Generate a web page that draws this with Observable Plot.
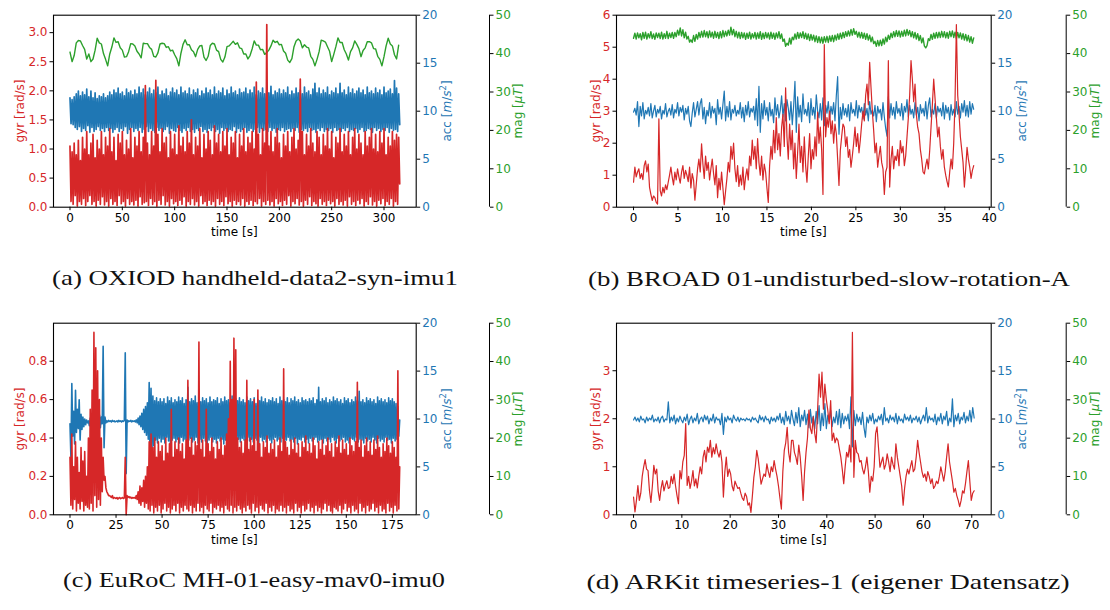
<!DOCTYPE html>
<html><head><meta charset="utf-8">
<script src="https://cdn.jsdelivr.net/npm/d3@7"></script>
<script src="https://cdn.jsdelivr.net/npm/@observablehq/plot@0.6"></script>
<style>
body{margin:0;background:#fff;}
#fig{position:relative;width:1110px;height:610px;overflow:hidden;background:#fff;font-family:"DejaVu Sans",sans-serif;}
.layer{position:absolute;width:555px;height:250px;}
.layer svg{overflow:visible;display:block;}
.lab{position:absolute;transform:translate(-50%,-50%);white-space:nowrap;font:12px "DejaVu Sans",sans-serif;line-height:14px;}
.rot{transform:translate(-50%,-50%) rotate(-90deg);}
.lab sup{font-size:8.5px;line-height:0;}
.cap{position:absolute;white-space:nowrap;font-family:"Liberation Serif",serif;font-size:22px;line-height:26px;color:#111;}
</style></head><body><div id="fig"></div>
<script>
// ---------- data ----------
// (a) OXIOD: time 0..315 s
const tEndA = 315, tEndMagA = 314;
const gyrA = [1.05,.1,.95,.05,1.1,.2,.9,.02,1.15,.1, .8,.05,1.2,.15,1.0,.03,1.3,.1,.9,.2, 1.1,.05,1.25,.1,.85,.02,1.15,.12,1.0,.05, 1.3,.18,.9,.04,1.2,.1,1.05,.02,1.35,.15, .95,.05,1.2,.1,.8,.03,1.25,.2,1.1,.06, 1.3,.1,.9,.02,1.15,.15,1.0,.05,1.35,.1, .85,.04,1.2,.12,1.05,.02,1.3,.18,.95,.05, 1.2,.08,2.09,.1,1.1,.03,.9,.15,1.3,.05, 1.05,.1,2.18,.02,1.25,.12,.95,.05,1.35,.2, 1.1,.04,1.2,.1,.85,.02,1.3,.15,1.0,.06, 1.25,.1,.9,.03,1.4,.12,1.05,.05,1.2,.18, .95,.02,1.3,.1,1.1,.05,1.5,.15,.9,.04, 1.2,.1,1.05,.02,1.35,.2,.85,.06,1.25,.1, 1.0,.03,1.3,.12,1.15,.05,.9,.1,1.4,.02, 1.1,.15,1.25,.05,.95,.1,1.3,.03,1.05,.18, 1.35,.06,.9,.1,1.2,.02,1.1,.12,1.3,.05, .85,.1,1.25,.04,1.05,.15,1.35,.02,.95,.1, 1.2,.05,1.1,.12,1.3,.03,1.0,.1,2.15,.06, 1.25,.15,.9,.02,1.35,.1,1.1,.05,3.14,.12, 1.05,.04,1.3,.1,.95,.02,1.2,.15,1.35,.06, 1.1,.1,.85,.03,1.25,.12,1.05,.05,1.3,.2, .95,.02,1.2,.1,1.35,.06,1.0,.15,1.15,.04, 2.2,.1,1.3,.02,.9,.12,1.25,.05,1.05,.18, 1.35,.03,1.1,.1,.95,.06,1.3,.02,1.2,.15, .9,.05,1.25,.1,1.05,.03,1.35,.12,1.0,.06, 1.3,.1,.85,.02,1.2,.15,1.1,.05,1.35,.1, .95,.04,1.25,.12,1.05,.02,1.3,.18,.9,.05, 1.2,.1,1.35,.03,1.0,.12,1.25,.06,1.1,.15, .9,.02,1.3,.1,1.05,.05,1.2,.18,1.35,.04, 1.0,.1,1.25,.02,.95,.12,1.3,.06,1.1,.15, 1.35,.03,.9,.1,1.2,.05,1.05,.15,1.3,.02, 1.15,.1,1.25,.05,1.2,.4];
const accA = [11.4,8.7,11.2,8.6,11.5,8.3,11.8,8.1,12.1,8.4, 11.6,7.9,12.0,8.2,11.7,8.0,12.3,8.5,11.5,7.8, 12.1,8.3,11.4,7.9,11.9,8.1,11.3,8.4,11.6,8.0, 11.5,8.2,11.8,7.9,11.4,8.3,11.6,8.0,12.0,8.2, 11.7,7.8,12.2,8.1,11.9,8.3,12.4,7.9,11.8,8.2, 12.0,8.0,11.6,8.4,12.3,7.7,11.9,8.1,12.1,8.3, 11.7,7.9,12.2,8.2,11.8,8.0,12.5,8.3,11.9,7.8, 12.3,8.1,11.7,8.4,12.0,7.9,12.4,8.2,11.8,8.0, 12.2,7.8,11.9,8.3,12.5,8.0,11.7,8.2,12.1,7.9, 11.8,8.1,12.3,8.4,11.6,7.7,12.0,8.2,12.4,8.0, 11.9,7.9,12.2,8.3,11.7,8.0,12.5,7.8,11.9,8.2, 12.1,8.0,11.8,8.3,12.4,7.9,11.7,8.1,12.2,7.8, 11.9,8.2,12.3,8.0,11.6,8.4,12.1,7.9,11.8,8.1, 12.4,7.8,11.9,8.2,12.2,8.0,11.7,8.3,12.5,7.9, 11.8,8.1,12.1,7.7,11.9,8.3,12.4,8.0,11.6,8.2, 12.2,7.9,11.8,8.1,12.5,8.0,11.9,8.4,12.1,7.8, 11.7,8.2,12.3,7.9,11.9,8.1,12.0,8.3,12.4,7.8, 11.8,8.0,12.2,8.2,11.9,7.9,12.5,8.1,11.7,8.3, 12.1,7.8,11.9,8.2,12.4,8.0,11.8,8.1,12.2,7.9, 11.9,8.3,12.6,8.0,11.7,8.2,12.1,7.8,11.9,8.1, 12.3,8.0,11.8,8.3,12.2,7.9,11.9,8.1,12.5,8.2, 11.7,7.9,12.1,8.2,11.8,8.0,12.4,8.3,11.9,7.8, 12.2,8.1,11.8,8.0,12.5,8.2,11.9,7.9,12.1,8.3, 11.7,8.0,12.3,8.1,12.9,7.8,11.9,8.2,12.4,8.0, 11.8,8.3,12.2,7.9,11.9,8.1,12.5,8.0,11.7,8.2, 12.1,7.8,11.9,8.3,12.4,8.0,11.8,8.1,12.9,7.9, 11.9,8.2,12.2,8.0,11.7,8.3,12.5,7.9,11.9,8.1, 12.3,8.0,11.8,8.2,12.1,7.8,12.4,8.1,11.9,8.3, 12.2,7.9,11.7,8.0,12.5,8.2,11.9,8.1,12.1,7.8, 11.8,8.3,12.4,8.0,11.9,8.2,12.2,7.9,11.7,8.1, 12.5,8.0,11.9,8.3,12.1,7.8,12.3,8.2,11.8,8.0, 13.2,8.1,12.4,7.9,11.8,8.6];
const magA = [40.4,37.9,39.5,42.8,43.4,43.3,42.1,41.1,38.6,39.9, 37.9,38.6,40.9,44.0,42.8,42.5,40.0,38.5,36.8,39.9, 41.7,44.1,42.9,43.1,41.5,40.9,39.1,39.2,40.5,42.6, 42.5,42.0,40.6,39.9,38.9,42.7,42.6,42.6,41.6,41.1, 39.3,39.1,40.2,42.5,42.7,42.6,41.6,41.8,40.7,40.9, 39.7,38.7,36.8,40.1,42.4,43.6,42.3,42.3,41.0,40.5, 39.2,41.1,42.0,42.1,39.1,38.2,39.3,42.1,42.7,42.5, 40.9,40.5,38.5,37.8,39.1,41.8,42.0,42.6,43.2,42.4, 42.8,41.5,41.3,39.9,39.9,38.6,39.5,41.2,43.3,42.2, 42.2,41.0,41.1,39.8,40.3,40.9,42.0,43.5,42.9,43.2, 42.3,42.4,40.7,40.1,38.3,37.7,38.7,41.8,43.3,43.8, 43.3,41.5,42.3,41.7,41.5,39.3,38.5,36.8,38.5,40.5, 43.5,43.3,43.0,41.8,40.6,37.9,39.8,41.8,44.1,42.9, 42.9,41.0,39.9,38.3,40.5,41.5,43.3,42.4,41.3,39.2, 40.8,41.5,43.1,43.1,42.8,41.3,41.2,39.3,38.5,36.8, 39.2,42.0,44.0,42.5,42.0,39.7,38.6,42.2];

// (b) BROAD: time 0..38.25 s
const tEndB = 38.25;
const gyrB = [.78,1.25,.95,1.1,1.2,.9,1.05,.86,1.3,1.45, 1.1,1.35,.62,.4,.21,.35,.3,.15,.1,2.76, .52,.35,.62,.45,.7,.55,.78,1.0,1.25,.94, .7,1.1,.85,1.2,.95,.75,1.1,1.3,.9,1.15, 1.0,.8,1.25,.6,1.05,.85,.22,.7,1.2,1.5, 1.1,1.98,1.35,.9,1.6,1.15,1.4,.85,1.2,1.5, 1.05,.7,1.3,.3,.9,.55,1.1,.6,.08,.5, .9,1.4,1.1,1.9,1.5,2.0,1.2,.8,1.3,.65, 1.0,.7,1.25,.55,.95,1.2,.85,1.6,1.3,2.1, 1.5,1.9,1.2,2.14,1.4,1.0,1.6,.85,1.35,1.1, .6,.15,1.3,1.9,1.5,2.4,1.7,2.8,1.8,2.3, 1.6,2.5,2.9,1.9,3.73,2.2,1.5,2.6,1.8,2.4, 1.2,2.0,.9,1.7,2.6,1.4,1.9,1.1,2.2,1.3, .78,1.6,2.3,1.2,1.8,1.5,2.2,1.6,2.97,2.0, 2.5,1.8,.4,5.08,2.2,2.8,2.5,3.0,2.3,2.7, 2.0,2.6,2.3,1.5,.68,1.77,2.2,2.6,2.5,1.9, 2.2,1.56,1.8,1.25,1.6,2.0,2.5,1.9,2.3,1.7, 2.1,2.6,3.0,2.7,3.5,3.85,3.2,4.53,3.75,3.0, 2.4,1.7,2.0,1.25,1.6,1.9,1.4,1.2,.4,1.1, 1.25,4.58,.63,1.5,1.9,1.2,1.6,1.46,1.8,1.3, 2.08,1.7,1.9,1.3,1.6,2.2,2.8,3.5,4.58,4.0, 3.3,3.85,2.9,2.5,2.3,1.8,1.5,1.1,1.04,1.3, 1.5,1.2,1.77,2.5,3.2,4.0,3.4,2.8,2.2,2.5, 1.9,1.5,1.8,1.25,1.0,.8,.63,1.1,1.5,1.2, 2.0,3.33,5.71,3.5,2.9,2.2,1.8,1.4,.63,1.2, 1.87,1.5,1.25,.9,1.15,1.3];
const accB = [9.9,10.3,9.6,11.0,8.4,10.5,9.5,10.9,9.2,10.1, 9.7,10.4,9.5,10.8,9.3,10.0,10.6,9.4,10.2,9.8, 10.5,9.2,10.1,9.7,10.8,9.4,10.0,10.3,9.6,10.7, 9.3,10.2,9.8,10.9,9.5,10.4,9.9,10.6,9.1,10.3, 9.7,10.5,9.0,8.4,9.8,10.9,9.4,10.2,11.0,9.6, 10.8,11.3,9.2,10.4,8.7,10.1,9.5,10.9,9.3,10.5, 9.8,10.3,8.6,11.2,9.7,10.4,9.2,10.7,12.1,9.0, 10.5,9.4,11.0,9.1,10.2,9.8,10.6,9.5,10.1,9.7, 10.9,9.3,10.4,8.9,10.6,9.6,11.0,9.4,10.3,9.9, 10.5,9.1,11.3,8.5,12.6,7.8,10.8,9.2,11.1,9.6, 10.4,9.0,10.9,9.5,10.2,8.8,11.4,9.6,10.7,9.3, 10.1,11.6,9.4,10.8,9.0,11.2,10.3,9.1,11.0,8.6, 10.5,13.1,7.8,11.5,9.4,10.6,8.9,11.8,9.7,10.2, 9.5,10.9,8.8,11.3,9.6,10.4,9.2,11.7,10.0,9.3, 10.8,9.1,11.4,8.5,10.6,9.8,11.0,9.3,10.5,9.7, 10.9,9.0,11.6,13.6,7.6,10.4,9.2,10.8,9.6,10.3, 9.4,10.7,9.0,10.9,9.8,10.2,9.5,11.1,9.3,10.6, 9.9,10.4,9.2,10.8,9.6,10.3,9.0,11.0,9.7,10.1, 9.5,10.6,8.9,10.5,9.8,10.2,9.1,10.9,9.4,8.2, 7.4,11.5,9.3,10.8,9.6,10.4,9.2,11.0,9.8,10.3, 9.5,10.8,9.1,10.5,9.9,11.2,9.4,10.6,9.7,10.2, 9.3,10.9,9.6,10.4,9.0,10.7,9.8,10.3,9.5,11.0, 9.2,10.6,11.4,9.4,10.2,9.7,10.8,9.3,10.5,9.9, 10.3,9.5,10.9,9.2,10.6,9.8,10.4,9.1,10.7,9.6, 10.2,9.4,11.0,9.7,10.5,9.3,10.8,9.9,11.1,9.5, 10.6,9.4,11.0,9.7,10.8,10.2];
const magB = [44.0,45.3,43.8,45.4,44.1,45.2,43.6,45.5,44.0,45.6, 43.8,45.2,44.1,45.7,43.9,45.1,43.7,45.4,44.2,45.3, 43.9,45.6,43.8,45.2,44.0,45.8,43.9,45.3,44.2,45.5, 44.0,45.5,44.4,46.1,44.8,46.7,44.6,46.2,44.1,45.6, 43.8,44.5,43.0,43.6,42.9,44.7,43.2,45.0,43.8,45.5, 44.2,45.8,44.3,46.0,44.4,45.7,44.1,45.9,44.3,45.6, 44.0,45.8,44.2,45.5,43.9,45.7,44.1,46.0,44.4,45.8, 44.6,46.1,44.8,46.9,44.9,46.3,44.4,45.8,44.1,45.6, 43.9,45.5,44.1,45.4,43.7,45.3,44.0,45.6,43.8,45.2, 44.1,45.5,43.8,45.4,44.0,45.7,43.7,45.3,43.9,45.5, 44.1,45.4,43.8,45.6,44.0,45.3,43.7,45.4,44.1,45.7, 43.9,45.1,43.2,43.8,41.9,42.7,42.2,44.0,42.5,44.3, 43.6,45.1,43.8,45.5,44.0,45.4,44.2,45.7,43.9,45.3, 43.7,45.1,43.4,45.0,43.5,44.8,43.1,44.6,42.9,44.4, 42.8,44.3,42.7,44.4,43.0,44.5,42.9,44.6,43.2,44.7, 43.1,44.8,43.5,45.1,43.7,45.3,43.9,45.5,44.2,45.7, 44.5,45.9,44.6,46.3,44.8,46.5,45.0,45.8,44.3,45.6, 44.1,45.5,44.0,45.3,43.7,45.2,43.5,44.8,43.1,44.3, 42.6,43.2,41.9,43.4,42.0,43.5,42.1,43.8,42.5,44.3, 43.1,44.8,43.7,45.3,44.2,45.7,44.4,46.0,44.5,45.9, 44.3,45.8,44.5,46.1,44.6,46.3,44.8,46.0,44.4,45.7, 44.1,45.5,43.8,45.2,43.4,44.7,42.8,44.1,42.0,41.5, 42.1,43.9,43.4,45.0,43.7,45.3,44.0,45.5,44.1,45.6, 44.2,45.8,44.3,45.7,44.1,45.5,44.0,45.8,44.4,45.9, 44.2,45.6,43.9,45.5,44.1,45.4,43.8,45.2,43.5,45.0, 43.3,44.7,43.0,44.4,42.7,44.1];

// (c) EuRoC: time 0..179 s (no magnetometer)
const tEndC = 179;
const gyrC = [.3,.05,.42,.03,.25,.08,.38,.02,.3,.06, .22,.03,.35,.07,.28,.02,.33,.05,.2,.04, .4,.03,.55,.06,.65,.02,.95,.1,.87,.04, .75,.08,.6,.05,.4,.12,.3,.18,.2,.14, .12,.11,.1,.1,.095,.09,.1,.085,.09,.088, .085,.09,.082,.088,.09,.084,.087,.09,.085,.088, .3,0,.1,.09,.095,.088,.092,.086,.09,.088, .09,.085,.1,.08,.12,.06,.15,.05,.14,.07, .18,.04,.2,.06,.25,.03,.38,.02,.42,.05, .35,.01,.4,.04,.3,.02,.38,.05,.33,.01, .36,.03,.28,.06,.4,.02,.32,.04,.37,.01, .55,.03,.3,.05,.38,.02,.34,.06,.4,.01, .33,.04,.37,.02,.29,.05,.39,.03,.7,.02, .35,.05,.4,.01,.31,.04,.38,.02,.36,.06, .9,.02,.34,.04,.39,.01,.3,.05,.55,.03, .37,.02,.33,.06,.4,.01,.35,.04,.29,.03, .38,.05,.34,.02,.4,.04,.31,.01,.36,.05, .42,.03,.5,.02,.8,.05,.6,.01,.92,.04, .86,.02,.4,.05,.35,.03,.38,.01,.32,.04, .39,.02,.7,.05,.34,.03,.4,.01,.36,.06, .6,.02,.33,.04,.65,.01,.37,.05,.3,.03, .38,.02,.35,.06,.41,.01,.32,.04,.37,.02, .34,.05,.39,.01,.3,.03,.36,.02,.4,.05, .33,.02,.76,.04,.38,.01,.35,.05,.31,.02, .39,.03,.34,.01,.4,.06,.32,.02,.37,.04, .3,.01,.38,.05,.35,.02,.41,.03,.33,.06, .37,.02,.32,.04,.4,.01,.36,.05,.29,.02, .38,.04,.34,.01,.39,.03,.31,.06,.36,.02, .4,.05,.33,.02,.37,.01,.3,.04,.38,.03, .35,.02,.41,.05,.32,.01,.39,.03,.34,.06, .37,.02,.31,.04,.4,.01,.36,.05,.33,.02, .38,.03,.69,.01,.35,.06,.39,.02,.3,.04, .36,.01,.4,.05,.33,.02,.38,.03,.31,.06, .39,.02,.34,.04,.41,.01,.35,.05,.3,.02, .37,.03,.33,.01,.4,.06,.36,.02,.32,.04, .38,.01,.35,.05,.3,.02,.75,.03,.25];
const accC = [9.5,6.0,13.7,8.2,10.8,7.4,13.0,8.6,11.0,9.0, 12.0,7.8,10.5,8.9,10.2,9.2,10.0,9.4,9.9,9.6, 9.8,9.3,10.1,9.2,9.9,9.5,10.2,9.0,10.3,9.4, 10.0,9.3,10.4,9.1,10.2,9.5,17.6,7.0,10.2,9.6, 9.8,9.7,9.85,9.75,9.8,9.7,9.85,9.75,9.8,9.7, 9.75,9.8,9.7,9.85,9.75,9.8,9.7,9.8,9.75,9.85, 16.9,4.3,9.9,9.7,9.8,9.75,9.85,9.7,9.8,9.75, 9.8,9.7,9.9,9.6,10.1,9.4,10.3,9.2,10.6,8.9, 11.0,8.6,11.3,8.3,11.7,7.9,13.8,4.9,13.2,6.5, 12.4,7.2,11.9,7.8,12.2,7.5,11.8,8.0,12.1,7.6, 11.8,7.9,12.1,7.5,11.6,8.1,12.3,7.7,11.9,7.4, 12.2,7.8,11.7,8.0,12.0,7.6,11.8,7.9,12.3,7.5, 11.9,8.1,12.2,7.7,11.6,7.9,12.0,7.4,13.3,7.8, 11.8,8.0,12.1,7.6,11.9,7.8,12.4,8.1,11.7,7.5, 12.0,7.9,11.8,7.6,12.2,8.0,11.9,7.7,12.1,7.4, 11.7,7.8,12.3,8.1,11.8,7.6,12.0,7.9,11.9,7.5, 12.2,8.0,11.6,7.7,12.1,7.9,11.8,7.4,12.3,7.8, 11.9,8.1,12.0,7.6,11.7,7.9,12.4,7.5,11.8,8.0, 12.1,7.7,11.9,7.9,12.2,7.6,11.8,8.0,12.0,7.8, 11.7,7.5,12.3,8.1,11.9,7.7,12.1,7.9,11.8,7.6, 12.2,8.0,11.6,7.8,12.0,7.4,11.9,8.1,12.3,7.7, 11.8,7.9,12.1,7.6,11.7,8.0,12.0,7.8,11.9,7.5, 12.2,7.9,11.8,8.1,12.1,7.7,11.6,7.9,12.3,7.6, 11.9,8.0,12.0,7.5,11.8,7.8,12.2,8.1,11.7,7.7, 12.1,7.9,11.9,7.6,12.3,8.0,11.8,7.4,12.0,7.9, 11.7,7.8,12.2,8.1,11.9,7.6,12.0,7.9,11.8,7.5, 12.1,8.0,11.9,7.7,12.2,7.9,11.6,8.1,12.0,7.6, 13.3,7.8,11.8,7.9,12.1,7.5,11.9,8.0,12.2,7.7, 11.7,7.9,12.0,7.6,11.8,8.1,12.3,7.8,11.9,7.5, 12.1,8.0,11.8,7.7,12.0,7.9,11.6,8.1,12.2,7.6, 11.9,7.8,12.1,7.5,11.7,8.0,12.0,7.9,11.8,7.7, 12.3,8.1,11.9,7.6,12.9,7.9,11.8,7.8,12.0,7.5, 11.7,8.0,12.2,7.7,11.9,7.9,12.1,7.6,11.8,8.1, 12.0,7.8,11.6,7.5,12.3,8.0,11.9,7.7,12.1,7.9, 11.8,7.6,12.0,8.1,11.7,7.8,12.2,7.9,11.9,7.5, 12.1,8.0,11.8,7.7,11.6,7.9,11.3,8.2,9.9];

// (d) ARKit: time 0..70.5 s (no magnetometer)
const tEndD = 70.5;
const gyrD = [.37,.06,.3,.61,.3,.45,.8,1.0,1.15,.95, .92,.5,.26,.6,1.03,.85,.95,.5,.3,.55, .71,.5,.62,.71,.55,.57,.8,.65,.85,.6, .4,.23,.92,.75,1.1,1.24,1.9,.61,.8,.55, .7,.92,.6,.75,.56,.8,1.0,.85,1.2,1.34, 1.1,1.41,1.3,1.55,1.2,1.4,1.27,1.48,1.3,1.2, 1.34,1.1,.37,.9,1.2,.8,.95,.85,.6,.5, .7,.62,.55,.57,.45,.35,.3,.45,.38,.2, .25,.05,.4,.78,1.0,1.34,1.17,.9,.64,.75, .85,.8,1.06,.9,.78,1.0,.9,1.13,.95,.8, .6,.35,.12,.9,1.34,1.5,1.82,1.3,1.1,1.55, 1.55,1.3,1.2,1.05,1.45,1.2,.8,.3,.9,1.3, 1.6,2.18,1.8,1.69,2.04,1.7,1.5,2.2,2.93,2.45, 2.97,2.2,2.72,2.4,2.18,1.9,2.38,1.55,1.7,1.5, 1.6,1.55,1.37,1.2,.95,.65,1.0,1.3,1.2,1.45, 1.1,3.8,.78,1.55,1.3,1.27,1.1,1.13,.95,.85, 1.0,1.2,.9,.47,.8,.7,1.0,1.69,1.83,1.4, .99,1.1,1.2,.95,1.05,1.27,1.1,.9,1.2,1.05, .95,1.48,1.2,1.0,.8,.6,.2,.55,.8,.95, .85,1.0,1.13,.9,.95,1.2,1.55,1.3,1.1,.9, .78,.85,.7,.9,.8,.65,.75,.55,.6,.7, .65,.8,1.0,.85,.7,.9,1.2,1.48,1.1,.9, .7,.47,.55,.4,.3,.17,.3,.5,.45,.65, .9,1.13,.7,.3,.45,.5];
const accD = [9.9,10.2,9.8,10.1,9.7,10.3,9.9,10.0,9.6,10.2, 9.8,10.1,9.9,10.4,9.7,10.0,9.8,10.2,9.6,10.1, 10.3,9.7,10.0,9.9,11.8,9.6,10.2,9.8,10.4,9.5, 10.1,9.7,10.3,9.9,9.6,10.2,9.8,10.5,9.4,10.0, 10.3,9.6,10.1,9.8,10.6,9.5,10.0,10.2,9.7,10.4, 9.9,10.3,9.5,10.1,9.8,10.5,9.6,10.2,9.9,10.0, 9.4,10.6,8.4,10.2,9.7,10.3,9.9,10.1,9.6,10.4, 10.0,9.8,10.2,9.7,10.1,9.9,10.0,9.8,10.1,9.9, 10.0,9.7,10.2,9.9,10.1,9.8,9.6,10.4,9.9,10.2, 9.7,10.3,9.9,10.0,9.5,10.2,9.8,10.1,9.7,10.3, 9.9,10.6,9.6,10.2,9.4,10.8,9.8,10.3,9.5,10.9, 10.0,9.3,10.7,9.6,11.2,9.2,10.4,9.8,10.9,9.4, 10.5,9.1,11.0,9.6,10.3,9.0,10.8,9.5,11.4,8.8, 10.6,9.3,11.6,9.0,10.4,9.7,10.9,9.2,10.2,9.6, 10.8,9.4,11.0,9.1,10.6,9.5,10.3,9.8,10.5,9.0, 12.3,7.1,10.9,9.3,10.5,9.7,10.2,9.4,10.7,9.1, 8.1,10.2,9.6,10.4,9.8,10.6,9.5,10.0,9.7,10.3, 9.9,10.5,9.4,11.2,9.8,10.1,9.6,10.4,9.9,10.2, 9.7,10.6,9.5,10.3,9.8,10.0,9.6,10.5,9.9,10.2, 9.8,10.4,9.6,10.1,9.9,10.3,9.7,10.2,9.5,10.0, 10.4,9.8,11.2,9.6,10.3,9.9,10.1,9.7,10.5,9.4, 10.2,9.8,10.6,9.5,10.3,9.9,10.8,9.3,10.1,9.7, 12.1,9.2,10.4,9.8,10.6,9.5,10.2,9.9,10.7,9.6, 10.3,9.8,10.9,9.7,11.2,10.1];

// axes
const xDomA = [-15.75, 330.75], xTicksA = [0,50,100,150,200,250,300];
const xDomB = [-1.915, 40.215], xTicksB = [0,5,10,15,20,25,30,35,40];
const xDomC = [-8.95, 187.95], xTicksC = [0,25,50,75,100,125,150,175];
const xDomD = [-3.525, 74.025], xTicksD = [0,10,20,30,40,50,60,70];
const gyrDomA = [0, 3.3], gyrTicksA = [0,0.5,1,1.5,2,2.5,3];
const gyrDomB = [0, 6], gyrTicksB = [0,1,2,3,4,5,6];
const gyrDomC = [0, 0.998], gyrTicksC = [0,0.2,0.4,0.6,0.8];
const gyrDomD = [0, 3.99], gyrTicksD = [0,1,2,3];
const accDom = [0, 20], accTicks = [0,5,10,15,20];
const magDom = [0, 50], magTicks = [0,10,20,30,40,50];
const capA = "(a) OXIOD handheld-data2-syn-imu1";
const capB = "(b) BROAD 01-undisturbed-slow-rotation-A";
const capC = "(c) EuRoC MH-01-easy-mav0-imu0";
const capD = "(d) ARKit timeseries-1 (eigener Datensatz)";

// ---------- drawing ----------
const RED = "#d62728", BLUE = "#1f77b4", GREEN = "#2ca02c";
const W = 555, H = 250;
const fig = document.getElementById("fig");
const series = (vals, tEnd) => vals.map((v, i) => ({t: i * tEnd / (vals.length - 1), v}));

const panels = [
  {left:0, top:0, fl:53, fr:415.7, ft:14.7, fb:206.7, lw:1.7, gyr:series(gyrA,tEndA), acc:series(accA,tEndA), mag:series(magA,tEndMagA), xDomain:xDomA, xTicks:xTicksA, gyrDomain:gyrDomA, gyrTicks:gyrTicksA, gyrFmt:".1f", magAxis:489, gyrLabX:20, cap:capA, capX:255, capY:278, capW:406},
  {left:555, top:0, fl:616, fr:990.7, ft:14.7, fb:206.7, lw:1.2, gyr:series(gyrB,tEndB), acc:series(accB,tEndB), mag:series(magB,tEndB), xDomain:xDomB, xTicks:xTicksB, gyrDomain:gyrDomB, gyrTicks:gyrTicksB, gyrFmt:"d", magAxis:1065.7, gyrLabX:596, cap:capB, capX:829, capY:279, capW:482},
  {left:0, top:305, fl:53, fr:415.7, ft:322.7, fb:514.3, lw:1.6, gyr:series(gyrC,tEndC), acc:series(accC,tEndC), mag:null, xDomain:xDomC, xTicks:xTicksC, gyrDomain:gyrDomC, gyrTicks:gyrTicksC, gyrFmt:".1f", magAxis:489, gyrLabX:20, cap:capC, capX:254, capY:580, capW:382},
  {left:555, top:305, fl:616, fr:990.7, ft:322.7, fb:514.3, lw:1.2, gyr:series(gyrD,tEndD), acc:series(accD,tEndD), mag:null, xDomain:xDomD, xTicks:xTicksD, gyrDomain:gyrDomD, gyrTicks:gyrTicksD, gyrFmt:"d", magAxis:1065.7, gyrLabX:596, cap:capD, capX:828, capY:582, capW:483}
];

function addLayer(el, p) {
  const d = document.createElement("div");
  d.className = "layer";
  d.style.left = p.left + "px"; d.style.top = p.top + "px";
  d.appendChild(el); fig.appendChild(d);
}
function addLabel(html, x, y, rot, color) {
  const d = document.createElement("div");
  d.className = "lab" + (rot ? " rot" : "");
  d.style.left = x + "px"; d.style.top = y + "px"; d.style.color = color;
  d.innerHTML = html; fig.appendChild(d);
}
function addCaption(text, cx, cy, w) {
  const d = document.createElement("div");
  d.className = "cap"; d.textContent = text;
  d.style.left = cx + "px"; d.style.top = cy + "px";
  fig.appendChild(d);
  const bw = d.getBoundingClientRect().width;
  d.style.transform = `translate(-50%,-50%) scaleX(${w / bw})`;
}

const svgStyle = {background: "transparent", overflow: "visible", fontFamily: "DejaVu Sans, sans-serif", fontSize: "12px"};
const axisOpts = {tickSize: 3.5, tickPadding: 2.5, label: null, stroke: "black", strokeWidth: 1};

for (const p of panels) {
  const m = {width: W, height: H, marginLeft: p.fl - p.left, marginRight: p.left + W - p.fr, marginTop: p.ft - p.top, marginBottom: p.top + H - p.fb, style: svgStyle};
  // magnetometer line (bottom layer)
  if (p.mag) {
    addLayer(Plot.plot({...m, x: {domain: p.xDomain, axis: null}, y: {domain: magDom, axis: null},
      marks: [Plot.line(p.mag, {x: "t", y: "v", stroke: GREEN, strokeWidth: 1.4})]}), p);
  }
  // accelerometer
  addLayer(Plot.plot({...m, x: {domain: p.xDomain, axis: null}, y: {domain: accDom},
    marks: [
      Plot.line(p.acc, {x: "t", y: "v", stroke: BLUE, strokeWidth: p.lw}),
      Plot.axisY({...axisOpts, anchor: "right", ticks: accTicks, tickFormat: "d", fill: BLUE})
    ]}), p);
  // gyroscope (top layer) + frame + time axis
  addLayer(Plot.plot({...m, x: {domain: p.xDomain}, y: {domain: p.gyrDomain},
    marks: [
      Plot.line(p.gyr, {x: "t", y: "v", stroke: RED, strokeWidth: p.lw}),
      Plot.frame({stroke: "black", strokeWidth: 1.1}),
      Plot.axisX({...axisOpts, anchor: "bottom", ticks: p.xTicks, tickFormat: "d", fill: "black"}),
      Plot.axisY({...axisOpts, anchor: "left", ticks: p.gyrTicks, tickFormat: p.gyrFmt, fill: RED})
    ]}), p);
  // separate magnetometer axis (offset spine)
  const mr = p.left + W - p.magAxis;
  addLayer(Plot.plot({...m, marginLeft: W - mr - 10, marginRight: mr, x: {domain: [0, 1], axis: null}, y: {domain: magDom},
    marks: [
      Plot.ruleX([1], {y1: magDom[0], y2: magDom[1], stroke: "black", strokeWidth: 1}),
      Plot.axisY({...axisOpts, anchor: "right", ticks: magTicks, tickFormat: "d", fill: GREEN})
    ]}), p);

  const midY = (p.ft + p.fb) / 2;
  addLabel("time [s]", (p.fl + p.fr) / 2, p.fb + 25.5, false, "black");
  addLabel("gyr [rad/s]", p.gyrLabX, midY, true, RED);
  addLabel("acc [<i>m</i>/<i>s</i><sup>2</sup>]", p.fr + 31.3, midY, true, BLUE);
  addLabel("mag [<i>μT</i>]", p.magAxis + 29, midY, true, GREEN);
  addCaption(p.cap, p.capX, p.capY, p.capW);
}
</script></body></html>
